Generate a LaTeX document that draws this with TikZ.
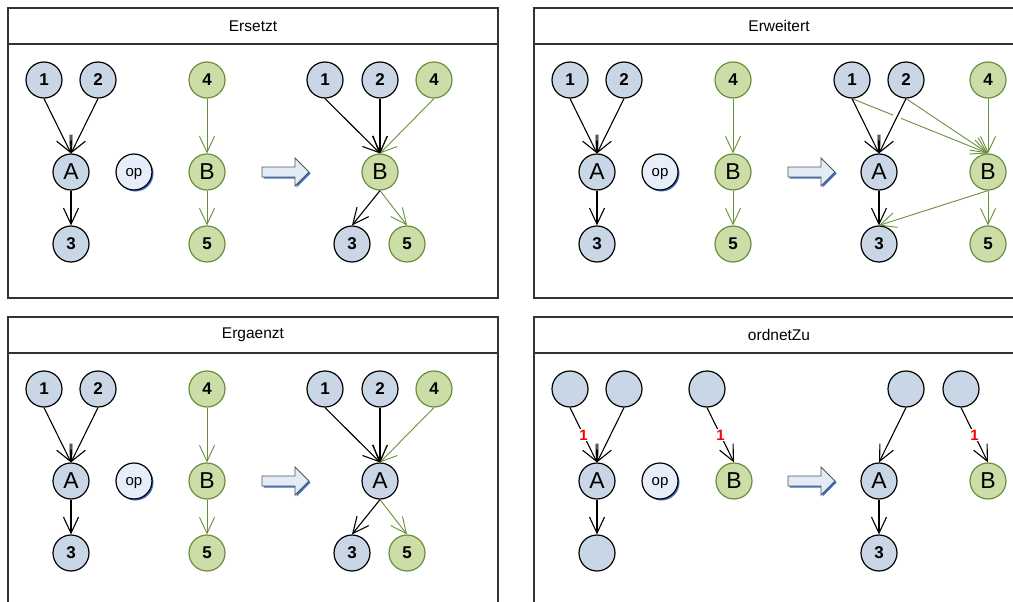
\documentclass[tikz,border=0pt]{standalone}
\usepackage{fontspec}
\setmainfont{Liberation Sans}
\usetikzlibrary{arrows.meta,shadows}
\definecolor{knotblau}{HTML}{C8D6E5}
\definecolor{knotgruen}{HTML}{CDDDA8}
\definecolor{gruenrand}{HTML}{6A8F3C}
\definecolor{opfarbe}{HTML}{E7EEF9}
\definecolor{schatten}{HTML}{3A6FCB}
\definecolor{pfeilfarbe}{HTML}{E3EBF7}
\definecolor{pfeilrand}{HTML}{555555}
\definecolor{rahmenfarbe}{HTML}{333333}
\begin{document}
\begin{tikzpicture}[x=1pt, y=-1pt,
  knoten/.style={circle, draw=black, fill=knotblau, line width=1.2pt, minimum size=36pt, inner sep=0pt, font=\fontsize{17}{17}\selectfont\bfseries},
  gknoten/.style={knoten, draw=gruenrand, fill=knotgruen},
  gross/.style={font=\fontsize{23}{23}\selectfont},
  opknoten/.style={knoten, fill=opfarbe, text depth=0pt, font=\fontsize{15}{15}\selectfont, general shadow={fill=schatten, shadow xshift=1.5pt, shadow yshift=-1.5pt}},
  kante/.style={-{Straight Barb[length=16pt,width=15pt]}, line width=1.1pt},
  gkante/.style={kante, draw=gruenrand, line width=0.9pt},
  anzahl/.style={fill=white, text=red, inner sep=1pt, font=\fontsize{15}{15}\selectfont\bfseries},
  rahmen/.style={draw=rahmenfarbe, line width=1.2pt},
  titel/.style={font=\fontsize{15.5}{16}\selectfont},
  umform/.style={draw=pfeilrand, fill=pfeilfarbe, line width=0.9pt, general shadow={fill=schatten, shadow xshift=1.5pt, shadow yshift=-1.5pt}}]
 \useasboundingbox (0,0) rectangle (1013,602);
 \clip (0,0) rectangle (1013,602);
 % Rahmen
 \draw[rahmen] (8,8) rectangle (498,298);
 \draw[rahmen] (8,44) -- (498,44);
 \node[titel] (tErsetzt) at (253,26) {Ersetzt};
 \draw[rahmen] (534,8) rectangle (1024,298);
 \draw[rahmen] (534,44) -- (1024,44);
 \node[titel] (tErweitert) at (779,26) {Erweitert};
 \draw[rahmen] (8,317) rectangle (498,607);
 \draw[rahmen] (8,353) -- (498,353);
 \node[titel] (tErgaenzt) at (253,335) {Ergaenzt};
 \draw[rahmen] (534,317) rectangle (1024,607);
 \draw[rahmen] (534,353) -- (1024,353);
 \node[titel] (tordnetZu) at (779,335) {ordnetZu};
 % Ersetzt
 \node[knoten] (a1) at (44,80) {1};
 \node[knoten] (a2) at (98,80) {2};
 \node[knoten, gross] (aA) at (71,172) {A};
 \node[knoten] (a3) at (71,244) {3};
 \node[opknoten] (aop) at (134,172) {op};
 \node[gknoten] (a4) at (207,80) {4};
 \node[gknoten, gross] (aB) at (207,172) {B};
 \node[gknoten] (a5) at (207,244) {5};
 \draw[kante] (a1.south) -- (aA.north);
 \draw[kante] (a2.south) -- (aA.north);
 \draw[kante] (aA) -- (a3);
 \draw[gkante] (a4) -- (aB);
 \draw[gkante] (aB) -- (a5);
 \draw[umform] (262,167) -- (295,167) -- (295,158) -- (309,172) -- (295,186) -- (295,177) -- (262,177) -- cycle;
 \node[knoten] (ar1) at (325,80) {1};
 \node[knoten] (ar2) at (380,80) {2};
 \node[gknoten] (ar4) at (434,80) {4};
 \node[gknoten, gross] (arB) at (380,172) {B};
 \node[knoten] (ar3) at (352,244) {3};
 \node[gknoten] (ar5) at (407,244) {5};
 \draw[gkante] (ar4.south) -- (arB.north);
 \draw[gkante] (arB.south) -- (ar5.north);
 \draw[kante] (ar1.south) -- (arB.north);
 \draw[kante] (ar2.south) -- (arB.north);
 \draw[kante] (arB.south) -- (ar3.north);
 % Erweitert
 \begin{scope}[shift={(526,0)}]
  \node[knoten] (b1) at (44,80) {1};
  \node[knoten] (b2) at (98,80) {2};
  \node[knoten, gross] (bA) at (71,172) {A};
  \node[knoten] (b3) at (71,244) {3};
  \node[opknoten] (bop) at (134,172) {op};
  \node[gknoten] (b4) at (207,80) {4};
  \node[gknoten, gross] (bB) at (207,172) {B};
  \node[gknoten] (b5) at (207,244) {5};
  \draw[kante] (b1.south) -- (bA.north);
  \draw[kante] (b2.south) -- (bA.north);
  \draw[kante] (bA) -- (b3);
  \draw[gkante] (b4) -- (bB);
  \draw[gkante] (bB) -- (b5);
  \draw[umform] (262,167) -- (295,167) -- (295,158) -- (309,172) -- (295,186) -- (295,177) -- (262,177) -- cycle;
  \node[knoten] (br1) at (326,80) {1};
  \node[knoten] (br2) at (380,80) {2};
  \node[gknoten] (br4) at (462,80) {4};
  \node[knoten, gross] (brA) at (353,172) {A};
  \node[gknoten, gross] (brB) at (462,172) {B};
  \node[knoten] (br3) at (353,244) {3};
  \node[gknoten] (br5) at (462,244) {5};
  \draw[gkante] (br4.south) -- (brB.north);
  \draw[gkante] (brB.south) -- (br5.north);
  \draw[gkante] (br1.south) -- (brB.north);
  \draw[gkante] (br2.south) -- (brB.north);
  \draw[gkante] (brB.south) -- (br3.north);
  \draw[kante] (br1.south) -- (brA.north);
  \draw[kante, preaction={draw=white, -, line width=8pt, shorten <=12pt, shorten >=32pt}] (br2.south) -- (brA.north);
  \draw[kante] (brA.south) -- (br3.north);
 \end{scope}
 % Ergaenzt
 \begin{scope}[shift={(0,309)}]
  \node[knoten] (c1) at (44,80) {1};
  \node[knoten] (c2) at (98,80) {2};
  \node[knoten, gross] (cA) at (71,172) {A};
  \node[knoten] (c3) at (71,244) {3};
  \node[opknoten] (cop) at (134,172) {op};
  \node[gknoten] (c4) at (207,80) {4};
  \node[gknoten, gross] (cB) at (207,172) {B};
  \node[gknoten] (c5) at (207,244) {5};
  \draw[kante] (c1.south) -- (cA.north);
  \draw[kante] (c2.south) -- (cA.north);
  \draw[kante] (cA) -- (c3);
  \draw[gkante] (c4) -- (cB);
  \draw[gkante] (cB) -- (c5);
  \draw[umform] (262,167) -- (295,167) -- (295,158) -- (309,172) -- (295,186) -- (295,177) -- (262,177) -- cycle;
  \node[knoten] (cr1) at (325,80) {1};
  \node[knoten] (cr2) at (380,80) {2};
  \node[gknoten] (cr4) at (434,80) {4};
  \node[knoten, gross] (crA) at (380,172) {A};
  \node[knoten] (cr3) at (352,244) {3};
  \node[gknoten] (cr5) at (407,244) {5};
  \draw[gkante] (cr4.south) -- (crA.north);
  \draw[gkante] (crA.south) -- (cr5.north);
  \draw[kante] (cr1.south) -- (crA.north);
  \draw[kante] (cr2.south) -- (crA.north);
  \draw[kante] (crA.south) -- (cr3.north);
 \end{scope}
 % ordnetZu
 \begin{scope}[shift={(526,309)}]
  \node[knoten] (d1) at (44,80) {};
  \node[knoten] (d2) at (98,80) {};
  \node[knoten, gross] (dA) at (71,172) {A};
  \node[knoten] (d3) at (71,244) {};
  \node[opknoten] (dop) at (134,172) {op};
  \node[knoten] (d4) at (181,80) {};
  \node[gknoten, gross] (dB) at (208,172) {B};
  \draw[kante] (d1.south) -- node[anzahl] (dz1) {1} (dA.north);
  \draw[kante] (d2.south) -- (dA.north);
  \draw[kante] (dA) -- (d3);
  \draw[kante] (d4.south) -- node[anzahl] (dz4) {1} (dB.north);
  \draw[umform] (262,167) -- (295,167) -- (295,158) -- (309,172) -- (295,186) -- (295,177) -- (262,177) -- cycle;
  \node[knoten] (dr2) at (380,80) {};
  \node[knoten] (dr4) at (435,80) {};
  \node[knoten, gross] (drA) at (353,172) {A};
  \node[gknoten, gross] (drB) at (462,172) {B};
  \node[knoten] (dr3) at (353,244) {3};
  \draw[kante] (dr2.south) -- (drA.north);
  \draw[kante] (drA.south) -- (dr3.north);
  \draw[kante] (dr4.south) -- node[anzahl] (dz5) {1} (drB.north);
 \end{scope}
\end{tikzpicture}
\end{document}
